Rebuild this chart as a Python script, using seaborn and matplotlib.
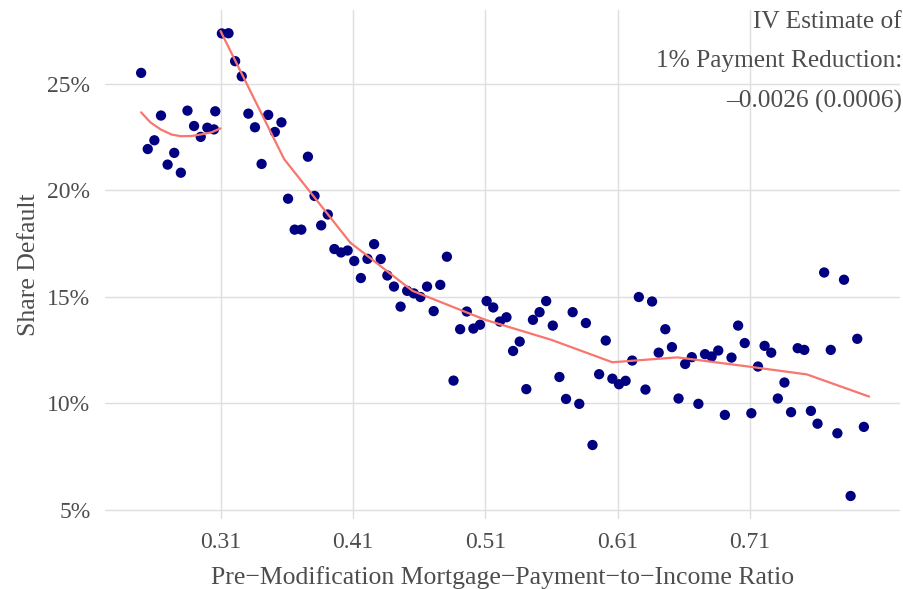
import numpy as np
import pandas as pd
import matplotlib
matplotlib.use("Agg")
import matplotlib.pyplot as plt
import seaborn as sns
from matplotlib.ticker import FuncFormatter

# binned scatter: left of the 0.31 cutoff
x_left = [0.250, 0.255, 0.260, 0.265, 0.270, 0.275, 0.280, 0.285, 0.290, 0.295,
          0.300, 0.305, 0.306]
y_left = [25.50, 21.93, 22.34, 23.50, 21.20, 21.75, 20.82, 23.73, 23.01, 22.50,
          22.93, 22.85, 23.70]

# binned scatter: right of the cutoff
x_right = [0.311, 0.316, 0.321, 0.326, 0.331, 0.336, 0.341, 0.346, 0.351, 0.356,
           0.361, 0.366, 0.371, 0.376, 0.381, 0.386, 0.391, 0.396, 0.401, 0.406,
           0.411, 0.416, 0.421, 0.426, 0.431, 0.436, 0.441, 0.446, 0.451, 0.456,
           0.461, 0.466, 0.471, 0.476, 0.481, 0.486, 0.491, 0.496, 0.501, 0.506,
           0.511, 0.516, 0.521, 0.526, 0.531, 0.536, 0.541, 0.546, 0.551, 0.556,
           0.561, 0.566, 0.571, 0.576, 0.581, 0.586, 0.591, 0.596, 0.601, 0.606,
           0.611, 0.616, 0.621, 0.626, 0.631, 0.636, 0.641, 0.646, 0.651, 0.656,
           0.661, 0.666, 0.671, 0.676, 0.681, 0.686, 0.691, 0.696, 0.701, 0.706,
           0.711, 0.716, 0.721, 0.726, 0.731, 0.736, 0.741, 0.746, 0.751, 0.756,
           0.761, 0.766, 0.771, 0.776, 0.781, 0.786, 0.791, 0.796]
y_right = [27.35, 27.36, 26.05, 25.34, 23.59, 22.95, 21.23, 23.53, 22.73, 23.18,
           19.60, 18.15, 18.15, 21.57, 19.73, 18.35, 18.86, 17.24, 17.08, 17.17,
           16.68, 15.88, 16.78, 17.47, 16.77, 16.00, 15.48, 14.54, 15.28, 15.16,
           14.99, 15.48, 14.33, 15.56, 16.88, 11.07, 13.48, 14.31, 13.51, 13.69,
           14.80, 14.50, 13.84, 14.04, 12.46, 12.90, 10.67, 13.92, 14.28, 14.80,
           13.65, 11.24, 10.21, 14.28, 9.98, 13.77, 8.05, 11.37, 12.95, 11.16,
           10.90, 11.06, 12.01, 14.99, 10.65, 14.78, 12.38, 13.48, 12.64, 10.23,
           11.85, 12.17, 9.98, 12.31, 12.20, 12.48, 9.46, 12.15, 13.65, 12.83,
           9.54, 11.73, 12.70, 12.38, 10.23, 10.98, 9.59, 12.59, 12.51, 9.65,
           9.05, 16.14, 12.51, 8.60, 15.80, 5.66, 13.03, 8.90]

# fitted lines on each side of the cutoff
fit_x_left = [0.250, 0.257, 0.265, 0.273, 0.280, 0.288, 0.295, 0.303, 0.310]
fit_y_left = [23.65, 23.18, 22.84, 22.61, 22.53, 22.54, 22.61, 22.71, 22.90]
fit_x_right = [0.310, 0.358, 0.408, 0.455, 0.510, 0.560, 0.606, 0.655, 0.710, 0.753, 0.800]
fit_y_right = [27.46, 21.46, 17.54, 15.28, 13.92, 12.98, 11.93, 12.16, 11.72, 11.36, 10.32]

x_ticks = [0.31, 0.41, 0.51, 0.61, 0.71]
y_ticks = [5, 10, 15, 20, 25]
note = "IV Estimate of\n1% Payment Reduction:\n\u20130.0026 (0.0006)"

sns.set_theme(style="whitegrid")
plt.rcParams["font.family"] = ["Liberation Serif", "DejaVu Serif"]

points = pd.DataFrame({"x": x_left + x_right, "y": y_left + y_right})

fig, ax = plt.subplots(figsize=(9.04, 5.89), dpi=100)
fig.subplots_adjust(left=105 / 904, right=900 / 904, top=1 - 10 / 589, bottom=1 - 519 / 589)

sns.scatterplot(data=points, x="x", y="y", color="#000080", s=55, edgecolor="none", ax=ax, zorder=3)
sns.lineplot(x=fit_x_left, y=fit_y_left, color="#F8766D", linewidth=1.6, ax=ax, zorder=4)
sns.lineplot(x=fit_x_right, y=fit_y_right, color="#F8766D", linewidth=1.6, ax=ax, zorder=4)

ax.set_xlim(0.2227, 0.8233)
ax.set_ylim(4.58, 28.45)
ax.set_xticks(x_ticks)
ax.set_yticks(y_ticks)
ax.xaxis.set_major_formatter(FuncFormatter(lambda v, p: f"{v:.2f}"))
ax.yaxis.set_major_formatter(FuncFormatter(lambda v, p: f"{v:.0f}%"))
ax.tick_params(axis="both", labelsize=17, labelcolor="#4d4d4d", length=0)
ax.tick_params(axis="x", pad=9)
ax.tick_params(axis="y", pad=10.5)
ax.grid(True, color="#dedede", linewidth=1.0)
for s in ax.spines.values():
    s.set_visible(False)

ax.set_xlabel("Pre\u2212Modification Mortgage\u2212Payment\u2212to\u2212Income Ratio",
              fontsize=18.5, color="#4d4d4d", labelpad=9.5)
ax.set_ylabel("Share Default", fontsize=18.5, color="#4d4d4d", labelpad=5)

fig.text(902 / 904, 1 - 11 / 589, note, ha="right", va="top", fontsize=18.3,
         color="#4d4d4d", linespacing=2.02)

fig.savefig("out.png", dpi=100)
